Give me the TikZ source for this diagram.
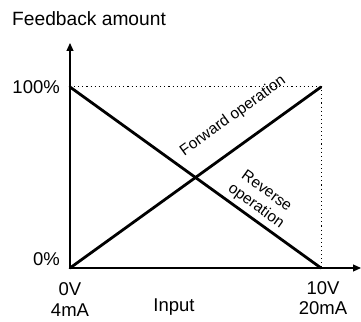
\documentclass[tikz,border=0pt]{standalone}
\usepackage{fontspec}
\setmainfont{Liberation Sans}
\usepackage{tikz}
\usetikzlibrary{arrows.meta,positioning,calc}
\definecolor{ink}{HTML}{000000}
\tikzset{
  axisline/.style={
    -{Triangle[length=8pt,width=7pt]}, line width=1.2pt, color=ink
  },
  opline/.style={
    line width=2.8pt, line cap=round, color=ink
  },
  guideline/.style={
    dash pattern=on 1.1pt off 3pt, line width=1pt, color=ink
  },
  axislabel/.style={
    font=\fontsize{18.5}{20}\selectfont, inner sep=0pt
  },
  oplabel/.style={
    font=\fontsize{15.5}{18}\selectfont, align=center, inner sep=0pt
  },
}
\begin{document}
\begin{tikzpicture}[x=1pt, y=1pt]
  \useasboundingbox (0,0) rectangle (361,321);
  \coordinate (orig) at (70,53);
  \coordinate (xend) at (321,53);
  \coordinate (yend) at (70,234);
  \coordinate (corner) at (321,234);
  \coordinate (xtip) at (361,53);
  \coordinate (ytip) at (70,278);
  % Guides to full scale
  \draw[guideline] (yend) -- (corner) -- (xend);
  % Axes
  \draw[axisline] (orig) -- (xtip);
  \draw[axisline] (orig) -- (ytip);
  % Characteristics
  \draw[opline] (orig) -- (corner);
  \draw[opline] (yend) -- (xend);
  \node[oplabel, rotate=35.8] (fwd) at (233,205) {Forward operation};
  \node[oplabel, rotate=-35.8] (rev) at (261,122) {Reverse\\operation};
  % Axis labels
  \node[axislabel, anchor=base west, font=\fontsize{19.2}{21}\selectfont] (fbamt) at (12,295.3) {Feedback amount};
  \node[axislabel, anchor=base east] (full) at (60,227) {100\%};
  \node[axislabel, anchor=base east] (zero) at (60,55.3) {0\%};
  \node[axislabel, anchor=base] (lowv) at (70,26) {0V};
  \node[axislabel, anchor=base] (lowi) at (70,4.5) {4mA};
  \node[axislabel, anchor=base] (input) at (174,9.3) {Input};
  \node[axislabel, anchor=base] (highv) at (323,27) {10V};
  \node[axislabel, anchor=base] (highi) at (323,6) {20mA};
\end{tikzpicture}
\end{document}
